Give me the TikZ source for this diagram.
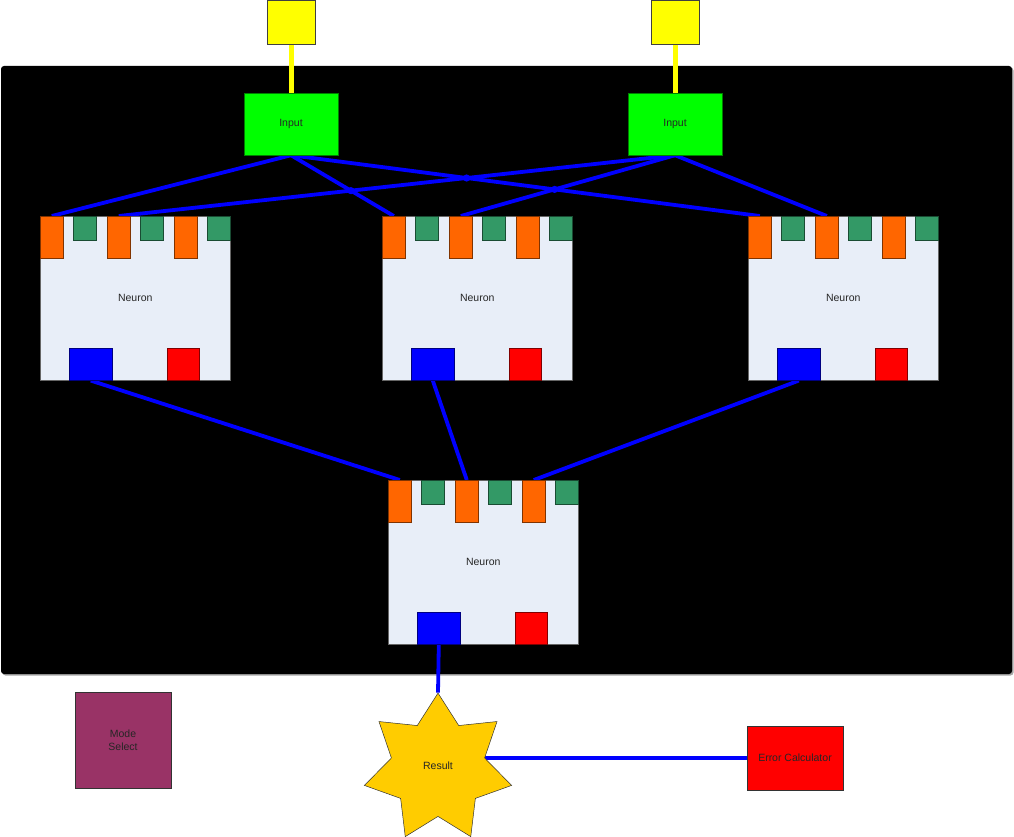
\documentclass[tikz,border=0pt]{standalone}
\usepackage{fontspec}
\setmainfont{Liberation Sans}
\usetikzlibrary{shapes.geometric,calc,intersections}
\definecolor{orangetab}{HTML}{FF6600}
\definecolor{greentab}{HTML}{339966}
\definecolor{nfill}{HTML}{E8EEF8}
\definecolor{inputgreen}{HTML}{00FF00}
\definecolor{yel}{HTML}{FFFF00}
\definecolor{starc}{HTML}{FFCC00}
\definecolor{modec}{HTML}{993366}
\definecolor{bluec}{HTML}{0000FF}
\definecolor{redc}{HTML}{FF0000}
\pgfdeclarelayer{bg}
\pgfdeclarelayer{lines}
\pgfsetlayers{bg,lines,main}
\tikzset{
  txt/.style={font=\fontsize{10.5}{12.5}\selectfont, text=black!85},
  nbody/.style={txt, draw=black!60, line width=0.5pt, fill=nfill, minimum width=190pt, minimum height=164pt, inner sep=0pt, anchor=north west},
  otab/.style={draw=orangetab!50!black, line width=0.6pt, fill=orangetab, minimum width=23pt, minimum height=42pt, inner sep=0pt, anchor=north west},
  gtab/.style={draw=greentab!50!black, line width=0.6pt, fill=greentab, minimum width=23pt, minimum height=24pt, inner sep=0pt, anchor=north west},
  btab/.style={draw=bluec!50!black, line width=0.6pt, fill=bluec, minimum width=43pt, minimum height=32pt, inner sep=0pt, anchor=north west},
  rtab/.style={draw=redc!50!black, line width=0.6pt, fill=redc, minimum width=32pt, minimum height=32pt, inner sep=0pt, anchor=north west},
  inbox/.style={txt, draw=inputgreen!50!black, line width=0.5pt, fill=inputgreen, minimum width=94pt, minimum height=62pt, inner sep=0pt},
  ybox/.style={draw=black!75, line width=0.6pt, fill=yel, minimum width=48pt, minimum height=44pt, inner sep=0pt},
  wire/.style={draw=bluec, line width=3.8pt},
  ywire/.style={draw=yel, line width=5pt},
  bump/.style={fill=bluec},
}
\newcommand\neuronat[3]{%
  \node[nbody] (#1) at (#2,#3) {Neuron};
  \node[otab] (#1o1) at ([shift={(0,0)}]#1.north west) {};
  \node[otab] (#1o2) at ([shift={(67,0)}]#1.north west) {};
  \node[otab] (#1o3) at ([shift={(134,0)}]#1.north west) {};
  \node[gtab] (#1g1) at ([shift={(33,0)}]#1.north west) {};
  \node[gtab] (#1g2) at ([shift={(100,0)}]#1.north west) {};
  \node[gtab] (#1g3) at ([shift={(167,0)}]#1.north west) {};
  \node[btab] (#1b) at ([shift={(29,132)}]#1.north west) {};
  \node[rtab] (#1r) at ([shift={(127,132)}]#1.north west) {};
}
\begin{document}
\begin{tikzpicture}[x=1pt,y=-1pt]
\useasboundingbox (0,0) rectangle (1014,837);
\begin{pgfonlayer}{bg}
  \fill[black!35, rounded corners=3pt] (2.5,67.5) rectangle (1013.5,675.5);
  \fill[black, rounded corners=3pt] (1,66) rectangle (1012,674);
\end{pgfonlayer}

% sources and inputs
\node[ybox] (y1) at (291,22) {};
\node[ybox] (y2) at (675,22) {};
\node[inbox] (in1) at (291,124) {Input};
\node[inbox] (in2) at (675,124) {Input};

% neurons
\neuronat{n1}{40}{216}
\neuronat{n2}{382}{216}
\neuronat{n3}{748}{216}
\neuronat{n4}{388}{480}

% result and others
\node[txt, star, star points=7, star point ratio=1.58, minimum size=151pt, inner sep=0pt, draw=black!80, line width=0.5pt, fill=starc] (res) at (438,768.6) {\raisebox{5pt}{Result}};
\node[txt, draw=black!80, line width=0.5pt, fill=modec, minimum width=96pt, minimum height=96pt, inner sep=0pt, align=center] (mode) at (123,740) {Mode\\Select};
\node[txt, draw=black!80, line width=0.5pt, fill=redc, minimum width=96pt, minimum height=64pt, inner sep=0pt] (err) at (795,758) {Error Calculator};

\begin{pgfonlayer}{lines}
  \draw[ywire] (y1.south) -- (in1.north);
  \draw[ywire] (y2.south) -- (in2.north);
  \draw[wire] (in1.south) -- (n1o1.north);
  \draw[wire, name path=A] (in1.south) -- (n2o1.north);
  \draw[wire, name path=B] (in1.south) -- (n3o1.north);
  \draw[wire, name path=D] (in2.south) -- (n1o2.north);
  \draw[wire, name path=E] (in2.south) -- (n2o2.north);
  \draw[wire] (in2.south) -- (n3o2.north);
  \fill[bump, name intersections={of=A and D}] (intersection-1) circle[radius=3.6pt];
  \fill[bump, name intersections={of=B and D}] (intersection-1) circle[radius=3.6pt];
  \fill[bump, name intersections={of=B and E}] (intersection-1) circle[radius=3.6pt];
  \draw[wire] (n1b.south) -- (n4o1.north);
  \draw[wire] (n2b.south) -- (n4o2.north);
  \draw[wire] (n3b.south) -- (n4o3.north);
  \draw[wire] (n4b.south) -- (res.north);
  \draw[wire] (err.west) -- (err.west -| res.center);
\end{pgfonlayer}
\end{tikzpicture}
\end{document}
